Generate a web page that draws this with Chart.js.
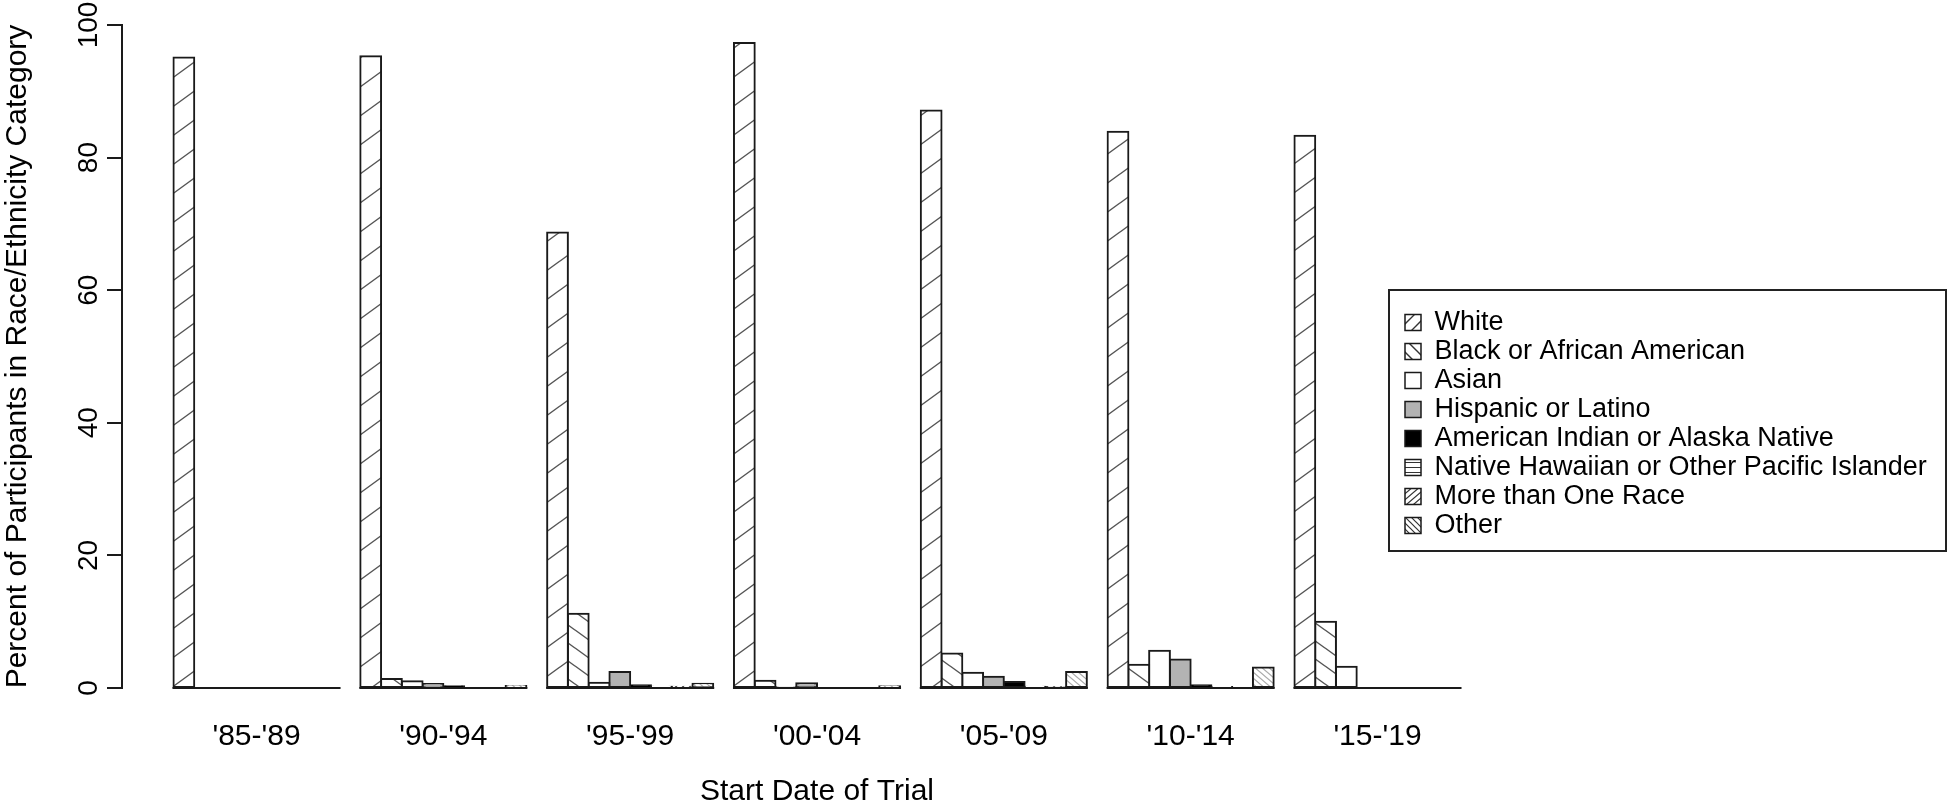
<!DOCTYPE html>
<html>
<head>
<meta charset="utf-8">
<title>Participants by Race/Ethnicity and Trial Start Date</title>
<script src="https://cdn.jsdelivr.net/npm/chart.js@4.4.1/dist/chart.umd.min.js"></script>
<style>
  html, body { margin: 0; padding: 0; background: #fff; }
  #wrap { width: 1950px; height: 812px; }
</style>
</head>
<body>
<div id="wrap"><canvas id="raceChart" width="1950" height="812"></canvas></div>
<script>
// periods on the x axis
const periods = ["'85-'89", "'90-'94", "'95-'99", "'00-'04", "'05-'09", "'10-'14", "'15-'19"];

// percent of participants, one array per category
const white     = [95.1, 95.3, 68.7, 97.3, 87.1, 83.9, 83.3];
const black     = [0, 1.35, 11.2, 1.1, 5.2, 3.5, 10.0];
const asian     = [0, 1.0, 0.8, 0.1, 2.3, 5.6, 3.2];
const hispanic  = [0, 0.6, 2.4, 0.7, 1.7, 4.3, 0];
const amIndian  = [0, 0.25, 0.4, 0, 0.9, 0.4, 0];
const hawaiian  = [0, 0, 0.2, 0, 0.2, 0.15, 0];
const multiRace = [0, 0, 0.2, 0, 0.1, 0, 0];
const other     = [0, 0.3, 0.65, 0.25, 2.4, 3.1, 0];

const yTicks = [0, 20, 40, 60, 80, 100];

const canvas = document.getElementById("raceChart");
const ctx = canvas.getContext("2d");

// hatch fills like R's density/angle shading
function hatch(w, h, dir, lineColor, lineWidth) {
  const tile = document.createElement("canvas");
  tile.width = w;
  tile.height = h;
  const g = tile.getContext("2d");
  g.fillStyle = "#fff";
  g.fillRect(0, 0, w, h);
  g.strokeStyle = lineColor;
  g.lineWidth = lineWidth;
  g.beginPath();
  for (const k of [-1, 0, 1]) {
    if (dir === "/") {
      g.moveTo(-w, 2 * h + k * h);
      g.lineTo(2 * w, -h + k * h);
    } else if (dir === "\\") {
      g.moveTo(-w, -h + k * h);
      g.lineTo(2 * w, 2 * h + k * h);
    } else {
      g.moveTo(0, h / 2);
      g.lineTo(w, h / 2);
    }
  }
  g.stroke();
  return ctx.createPattern(tile, "repeat");
}

const fills = {
  white: hatch(40, 29, "/", "#555", 1.4),
  black: hatch(25, 18, "\\", "#555", 1.4),
  asian: "#ffffff",
  hispanic: "#b3b3b3",
  amIndian: "#000000",
  hawaiian: hatch(4, 5, "-", "#333", 1.2),
  multiRace: hatch(7, 6, "/", "#333", 1.2),
  other: hatch(7, 6, "\\", "#aaa", 1.2),
};

// the small legend keys need a tighter hatch so a stroke shows in them
const keyFills = {
  White: hatch(13, 13, "/", "#333", 1.4),
  "Black or African American": hatch(13, 13, "\\", "#333", 1.4),
  Other: hatch(6, 6, "\\", "#333", 1.2),
};

const legendBox = { left: 1389, top: 290, width: 557, height: 261 };

const makeSet = (label, data, fill) => ({
  label,
  data,
  backgroundColor: fill,
  borderColor: "#1a1a1a",
  borderWidth: 2,
  borderSkipped: false,
  inflateAmount: 1,
  categoryPercentage: 8 / 9,
  barPercentage: 1,
  clip: false,
});

const datasets = [
  makeSet("White", white, fills.white),
  makeSet("Black or African American", black, fills.black),
  makeSet("Asian", asian, fills.asian),
  makeSet("Hispanic or Latino", hispanic, fills.hispanic),
  makeSet("American Indian or Alaska Native", amIndian, fills.amIndian),
  makeSet("Native Hawaiian or Other Pacific Islander", hawaiian, fills.hawaiian),
  makeSet("More than One Race", multiRace, fills.multiRace),
  makeSet("Other", other, fills.other),
];

// zero-height bars in R still leave a line along each group
const groupBaseline = {
  id: "groupBaseline",
  afterDatasetsDraw(chart) {
    const c = chart.ctx;
    const y0 = chart.scales.y.getPixelForValue(0);
    const first = chart.getDatasetMeta(0).data;
    const last = chart.getDatasetMeta(chart.data.datasets.length - 1).data;
    c.save();
    c.strokeStyle = "#1a1a1a";
    c.lineWidth = 2;
    first.forEach((bar, i) => {
      const end = last[i];
      c.beginPath();
      c.moveTo(bar.x - bar.width / 2 - 1, y0);
      c.lineTo(end.x + end.width / 2 + 1, y0);
      c.stroke();
    });
    c.restore();
  },
};

// put the legend in its framed box over the right of the plot
const legendFrame = {
  id: "legendFrame",
  afterLayout(chart) {
    const lg = chart.legend;
    const pad = lg.options.labels.padding;
    lg.left = legendBox.left + 16 - pad;
    lg.top = legendBox.top + 19 - pad;
    lg.width = legendBox.width;
    lg.right = legendBox.left + legendBox.width;
    lg.height = legendBox.height;
    lg.bottom = legendBox.top + legendBox.height;
  },
  afterDraw(chart) {
    const c = chart.ctx;
    c.save();
    c.strokeStyle = "#222";
    c.lineWidth = 2;
    c.strokeRect(legendBox.left, legendBox.top, legendBox.width, legendBox.height);
    c.restore();
  },
};

Chart.defaults.font.family = "'Liberation Sans', Arial, sans-serif";
Chart.defaults.color = "#000";

new Chart(ctx, {
  type: "bar",
  data: {
    labels: periods.map((_, i) => i),
    datasets: datasets,
  },
  plugins: [groupBaseline, legendFrame],
  options: {
    responsive: false,
    animation: false,
    devicePixelRatio: 1,
    layout: { padding: { left: 0, top: 25, right: 438, bottom: 0 } },
    plugins: {
      legend: {
        position: "chartArea",
        align: "start",
        labels: {
          boxWidth: 16,
          boxHeight: 16,
          padding: 2,
          color: "#000",
          font: { size: 27 },
          generateLabels: (chart) =>
            Chart.defaults.plugins.legend.labels
              .generateLabels(chart)
              .map((item) => ({
                ...item,
                fillStyle: keyFills[item.text] || item.fillStyle,
                lineWidth: 1.5,
              })),
        },
      },
      tooltip: { enabled: false },
    },
    scales: {
      x: {
        type: "linear",
        min: -0.72,
        max: 6.72,
        offset: false,
        grid: { display: false, drawTicks: false },
        border: { display: false },
        ticks: {
          stepSize: 1,
          includeBounds: false,
          padding: 31,
          font: { size: 30 },
          color: "#000",
          callback: (v) => (Number.isInteger(v) ? periods[v] : ""),
        },
        title: {
          display: true,
          text: "Start Date of Trial",
          font: { size: 30 },
          color: "#000",
          padding: { top: 0, bottom: 2 },
        },
        afterFit: (scale) => {
          scale.height = 124;
        },
      },
      y: {
        min: 0,
        max: 100,
        afterBuildTicks: (scale) => {
          scale.ticks = yTicks.map((v) => ({ value: v }));
        },
        grid: {
          drawOnChartArea: false,
          tickLength: 15,
          color: "#1a1a1a",
          lineWidth: 2,
        },
        border: { display: true, color: "#1a1a1a", width: 2 },
        ticks: {
          minRotation: 90,
          maxRotation: 90,
          crossAlign: "center",
          padding: -6,
          font: { size: 28 },
          color: "#000",
        },
        title: {
          display: true,
          text: "Percent of Participants in Race/Ethnicity Category",
          font: { size: 30 },
          color: "#000",
          padding: { top: 0, bottom: 0 },
        },
        afterFit: (scale) => {
          scale.width = 122;
        },
      },
    },
  },
});
</script>
</body>
</html>
